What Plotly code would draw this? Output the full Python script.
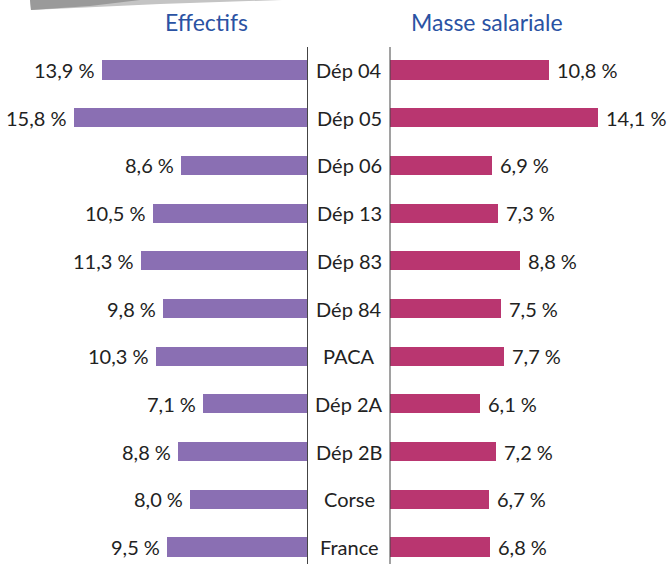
import plotly.graph_objects as go

categories = ["Dép 04", "Dép 05", "Dép 06", "Dép 13", "Dép 83", "Dép 84",
              "PACA", "Dép 2A", "Dép 2B", "Corse", "France"]
effectifs = [13.9, 15.8, 8.6, 10.5, 11.3, 9.8, 10.3, 7.1, 8.8, 8.0, 9.5]
masse_salariale = [10.8, 14.1, 6.9, 7.3, 8.8, 7.5, 7.7, 6.1, 7.2, 6.7, 6.8]
titles = ["Effectifs", "Masse salariale"]

W, H = 669, 564
PURPLE = "#8a6fb3"
MAGENTA = "#b93670"
BLUE = "#2a52a3"
TXT = "#222222"
FONT = "Lato"
LBL = 20

idx = list(range(len(categories)))

def fmt(v):
    return f"{v:.1f}".replace(".", ",") + " %"

def px(x):
    return x / W

def py(y):
    return 1 - y / H

fig = go.Figure()
fig.add_trace(go.Bar(x=effectifs, y=idx, orientation="h", xaxis="x", yaxis="y",
                     marker=dict(color=PURPLE, line=dict(width=0)), width=0.4,
                     hoverinfo="skip"))
fig.add_trace(go.Bar(x=masse_salariale, y=idx, orientation="h", xaxis="x2", yaxis="y",
                     marker=dict(color=MAGENTA, line=dict(width=0)), width=0.4,
                     hoverinfo="skip"))

annotations = []
for i, (c, a, b) in enumerate(zip(categories, effectifs, masse_salariale)):
    annotations.append(dict(x=px(349.5), xref="paper", y=i, yref="y", text=c,
                            showarrow=False, xanchor="center", yanchor="middle",
                            font=dict(family=FONT, size=LBL, color=TXT)))
    annotations.append(dict(x=a, xref="x", y=i, yref="y", text=fmt(a),
                            showarrow=False, xanchor="right", yanchor="middle",
                            xshift=-5, font=dict(family=FONT, size=LBL, color=TXT)))
    annotations.append(dict(x=b, xref="x2", y=i, yref="y", text=fmt(b),
                            showarrow=False, xanchor="left", yanchor="middle",
                            xshift=6, font=dict(family=FONT, size=LBL, color=TXT)))

annotations.append(dict(x=px(206), y=py(22), xref="paper", yref="paper", text=titles[0],
                        showarrow=False, xanchor="center", yanchor="middle",
                        font=dict(family=FONT, size=23, color=BLUE)))
annotations.append(dict(x=px(487), y=py(22), xref="paper", yref="paper", text=titles[1],
                        showarrow=False, xanchor="center", yanchor="middle",
                        font=dict(family=FONT, size=23, color=BLUE)))

shapes = [
    dict(type="line", xref="paper", yref="paper", x0=px(307.5), x1=px(307.5),
         y0=py(47), y1=0, line=dict(color="#444444", width=1)),
    dict(type="line", xref="paper", yref="paper", x0=px(390), x1=px(390),
         y0=py(47), y1=0, line=dict(color="#444444", width=1)),
]
# grey swoosh at the top left
shapes.append(dict(type="path", xref="paper", yref="paper",
                   path=f"M {px(30)},{py(0)} L {px(282)},{py(0)} L {px(160)},{py(4)} L {px(31)},{py(10)} Z",
                   fillcolor="#c4c4c4", line=dict(width=0), layer="above"))
shapes.append(dict(type="path", xref="paper", yref="paper",
                   path=f"M {px(30)},{py(0)} L {px(140)},{py(0)} L {px(90)},{py(6)} L {px(31)},{py(10)} Z",
                   fillcolor="#9a9a9a", line=dict(width=0), layer="above"))

left_w = 307.5
right_x0 = 390
scale = 14.75
fig.update_layout(
    width=W, height=H,
    margin=dict(l=0, r=0, t=0, b=0),
    paper_bgcolor="white", plot_bgcolor="white",
    showlegend=False,
    bargap=0,
    xaxis=dict(domain=[0, left_w / W], range=[left_w / scale, 0], visible=False,
               fixedrange=True),
    xaxis2=dict(domain=[right_x0 / W, 1], range=[0, (W - right_x0) / scale],
                visible=False, anchor="y", fixedrange=True),
    yaxis=dict(domain=[0, 1], range=[(564 - 70) / 47.7, -70 / 47.7], visible=False,
               fixedrange=True),
    annotations=annotations,
    shapes=shapes,
)

fig.write_html("out.html", config={"displayModeBar": False},
               post_script="document.body.style.margin='0px';document.body.style.overflow='hidden';")
